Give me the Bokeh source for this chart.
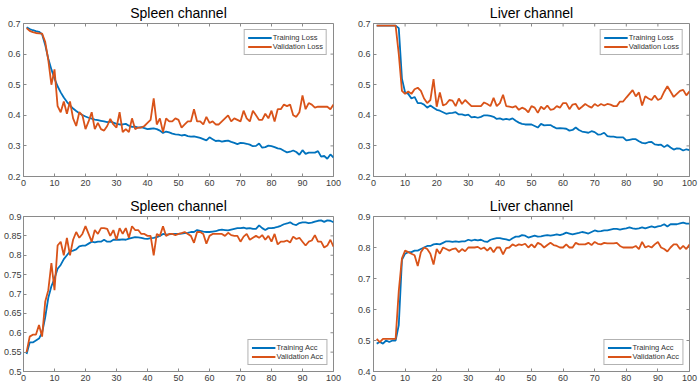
import math
from bokeh.plotting import figure
from bokeh.layouts import gridplot
from bokeh.models import Range1d, FixedTicker, CustomJSTickFormatter
from bokeh.embed import file_html
from bokeh.resources import INLINE

epochs = list(range(1, 101))
x_ticks = [0, 10, 20, 30, 40, 50, 60, 70, 80, 90, 100]

loss_ticks = [0.2, 0.3, 0.4, 0.5, 0.6, 0.7]
spleen_acc_ticks = [0.5, 0.55, 0.6, 0.65, 0.7, 0.75, 0.8, 0.85, 0.9]
liver_acc_ticks = [0.4, 0.5, 0.6, 0.7, 0.8, 0.9]

titles = ["Spleen channel", "Liver channel", "Spleen channel", "Liver channel"]
loss_labels = ["Training Loss", "Validation Loss"]
acc_labels = ["Training Acc", "Validation Acc"]

spleen_train_loss = [
    0.688, 0.682, 0.678, 0.675, 0.673, 0.665, 0.630, 0.585, 0.550, 0.520,
    0.495, 0.475, 0.458, 0.444, 0.432, 0.422, 0.414, 0.407, 0.401, 0.396,
    0.392, 0.389, 0.386, 0.384, 0.382, 0.380, 0.378, 0.379, 0.376, 0.372,
    0.370, 0.370, 0.372, 0.366, 0.362, 0.363, 0.360, 0.361, 0.358, 0.355,
    0.356, 0.357, 0.355, 0.350, 0.342, 0.347, 0.344, 0.340, 0.338, 0.337,
    0.334, 0.336, 0.332, 0.330, 0.331, 0.329, 0.326, 0.322, 0.318, 0.328,
    0.322, 0.316, 0.317, 0.314, 0.316, 0.317, 0.313, 0.310, 0.306, 0.310,
    0.309, 0.307, 0.304, 0.299, 0.300, 0.308, 0.294, 0.296, 0.301, 0.299,
    0.296, 0.292, 0.290, 0.284, 0.279, 0.281, 0.285, 0.280, 0.271, 0.286,
    0.274, 0.278, 0.278, 0.278, 0.283, 0.265, 0.267, 0.258, 0.272, 0.262]

spleen_val_loss = [
    0.685, 0.676, 0.672, 0.669, 0.668, 0.667, 0.640, 0.580, 0.500, 0.550,
    0.430, 0.410, 0.445, 0.405, 0.445, 0.390, 0.365, 0.410, 0.400, 0.355,
    0.380, 0.410, 0.355, 0.375, 0.355, 0.350, 0.365, 0.388, 0.370, 0.360,
    0.410, 0.345, 0.355, 0.345, 0.390, 0.355, 0.360, 0.360, 0.365, 0.375,
    0.385, 0.455, 0.370, 0.390, 0.345, 0.390, 0.380, 0.380, 0.390, 0.385,
    0.360, 0.370, 0.380, 0.380, 0.420, 0.380, 0.380, 0.370, 0.395, 0.375,
    0.380, 0.370, 0.370, 0.380, 0.390, 0.400, 0.380, 0.390, 0.385, 0.380,
    0.415, 0.390, 0.380, 0.415, 0.400, 0.385, 0.385, 0.405, 0.390, 0.415,
    0.380, 0.420, 0.420, 0.435, 0.430, 0.435, 0.400, 0.395, 0.410, 0.465,
    0.420, 0.440, 0.435, 0.425, 0.428, 0.428, 0.428, 0.428, 0.420, 0.435]

liver_train_loss = [
    0.693, 0.693, 0.693, 0.693, 0.693, 0.693, 0.693, 0.685, 0.520, 0.475,
    0.470, 0.455, 0.460, 0.440, 0.440, 0.435, 0.425, 0.432, 0.425, 0.418,
    0.415, 0.410, 0.405, 0.407, 0.408, 0.410, 0.403, 0.403, 0.400, 0.402,
    0.393, 0.395, 0.392, 0.395, 0.400, 0.400, 0.398, 0.395, 0.388, 0.390,
    0.386, 0.388, 0.386, 0.390, 0.382, 0.376, 0.372, 0.370, 0.370, 0.370,
    0.365, 0.360, 0.372, 0.367, 0.368, 0.368, 0.362, 0.357, 0.358, 0.357,
    0.356, 0.350, 0.352, 0.360, 0.352, 0.347, 0.345, 0.343, 0.348, 0.345,
    0.337, 0.338, 0.343, 0.332, 0.330, 0.330, 0.328, 0.328, 0.328, 0.318,
    0.320, 0.322, 0.322, 0.315, 0.310, 0.308, 0.312, 0.313, 0.305, 0.303,
    0.304, 0.296, 0.303, 0.295, 0.288, 0.292, 0.291, 0.285, 0.289, 0.286]

liver_val_loss = [
    0.693, 0.693, 0.693, 0.693, 0.693, 0.693, 0.693, 0.600, 0.480, 0.470,
    0.478, 0.470, 0.485, 0.490, 0.480, 0.455, 0.440, 0.450, 0.518, 0.428,
    0.475, 0.432, 0.437, 0.450, 0.448, 0.430, 0.455, 0.437, 0.450, 0.440,
    0.430, 0.430, 0.430, 0.430, 0.442, 0.437, 0.430, 0.457, 0.430, 0.440,
    0.467, 0.430, 0.428, 0.426, 0.430, 0.418, 0.425, 0.420, 0.410, 0.430,
    0.425, 0.408, 0.428, 0.420, 0.432, 0.418, 0.420, 0.430, 0.425, 0.440,
    0.440, 0.420, 0.435, 0.437, 0.420, 0.428, 0.437, 0.430, 0.425, 0.437,
    0.430, 0.437, 0.432, 0.437, 0.435, 0.430, 0.430, 0.445, 0.445, 0.458,
    0.470, 0.482, 0.462, 0.475, 0.432, 0.462, 0.455, 0.450, 0.465, 0.450,
    0.455, 0.477, 0.495, 0.478, 0.460, 0.470, 0.480, 0.483, 0.465, 0.478]

spleen_train_acc = [
    0.545, 0.575, 0.575, 0.580, 0.585, 0.600, 0.640, 0.690, 0.720, 0.740,
    0.765, 0.775, 0.790, 0.800, 0.810, 0.812, 0.815, 0.823, 0.825, 0.825,
    0.830, 0.835, 0.833, 0.835, 0.835, 0.840, 0.835, 0.835, 0.840, 0.840,
    0.840, 0.841, 0.840, 0.843, 0.845, 0.847, 0.846, 0.845, 0.843, 0.842,
    0.844, 0.845, 0.847, 0.850, 0.855, 0.853, 0.854, 0.855, 0.855, 0.855,
    0.856, 0.857, 0.858, 0.860, 0.860, 0.865, 0.863, 0.861, 0.860, 0.860,
    0.861, 0.862, 0.865, 0.866, 0.865, 0.864, 0.866, 0.868, 0.870, 0.870,
    0.871, 0.869, 0.870, 0.868, 0.868, 0.877, 0.870, 0.865, 0.870, 0.870,
    0.871, 0.873, 0.876, 0.880, 0.882, 0.885, 0.880, 0.878, 0.883, 0.885,
    0.885, 0.883, 0.884, 0.887, 0.889, 0.890, 0.886, 0.890, 0.889, 0.885]

spleen_val_acc = [
    0.550, 0.590, 0.595, 0.595, 0.620, 0.590, 0.680, 0.710, 0.780, 0.710,
    0.825, 0.835, 0.800, 0.845, 0.800, 0.840, 0.860, 0.845, 0.855, 0.875,
    0.855, 0.835, 0.865, 0.855, 0.870, 0.870, 0.868, 0.850, 0.865, 0.840,
    0.870, 0.855, 0.870, 0.845, 0.875, 0.865, 0.865, 0.855, 0.855, 0.850,
    0.850, 0.800, 0.855, 0.850, 0.875, 0.850, 0.855, 0.855, 0.852, 0.855,
    0.857, 0.860, 0.855, 0.850, 0.832, 0.860, 0.860, 0.855, 0.830, 0.850,
    0.855, 0.855, 0.855, 0.855, 0.850, 0.858, 0.852, 0.850, 0.850, 0.835,
    0.848, 0.855, 0.840, 0.845, 0.850, 0.845, 0.852, 0.840, 0.850, 0.835,
    0.855, 0.828, 0.835, 0.835, 0.838, 0.833, 0.848, 0.842, 0.845, 0.835,
    0.825, 0.835, 0.838, 0.852, 0.835, 0.835, 0.820, 0.825, 0.840, 0.822]

liver_train_acc = [
    0.490, 0.495, 0.490, 0.500, 0.495, 0.500, 0.500, 0.550, 0.760, 0.780,
    0.785, 0.785, 0.790, 0.790, 0.795, 0.800, 0.805, 0.805, 0.810, 0.812,
    0.810, 0.815, 0.820, 0.820, 0.818, 0.820, 0.818, 0.820, 0.820, 0.825,
    0.822, 0.825, 0.823, 0.825, 0.820, 0.818, 0.825, 0.828, 0.830, 0.830,
    0.828, 0.826, 0.823, 0.830, 0.835, 0.835, 0.840, 0.838, 0.832, 0.835,
    0.838, 0.835, 0.836, 0.838, 0.840, 0.838, 0.840, 0.842, 0.840, 0.843,
    0.848, 0.845, 0.842, 0.845, 0.847, 0.850, 0.848, 0.845, 0.850, 0.855,
    0.852, 0.853, 0.855, 0.855, 0.858, 0.860, 0.860, 0.858, 0.860, 0.862,
    0.865, 0.862, 0.860, 0.862, 0.865, 0.862, 0.865, 0.868, 0.865, 0.868,
    0.870, 0.875, 0.868, 0.875, 0.875, 0.875, 0.878, 0.880, 0.877, 0.877]

liver_val_acc = [
    0.505, 0.495, 0.505, 0.505, 0.505, 0.505, 0.505, 0.660, 0.765, 0.790,
    0.785, 0.780, 0.775, 0.740, 0.785, 0.800, 0.795, 0.780, 0.745, 0.795,
    0.780, 0.800, 0.795, 0.790, 0.795, 0.797, 0.785, 0.795, 0.788, 0.800,
    0.800, 0.800, 0.802, 0.795, 0.800, 0.790, 0.800, 0.785, 0.800, 0.800,
    0.778, 0.798, 0.800, 0.810, 0.805, 0.810, 0.808, 0.812, 0.800, 0.810,
    0.800, 0.815, 0.810, 0.800, 0.808, 0.815, 0.808, 0.805, 0.800, 0.800,
    0.810, 0.800, 0.800, 0.815, 0.810, 0.810, 0.810, 0.815, 0.808, 0.818,
    0.812, 0.810, 0.815, 0.813, 0.813, 0.813, 0.815, 0.805, 0.800, 0.800,
    0.800, 0.800, 0.805, 0.795, 0.818, 0.800, 0.805, 0.800, 0.810, 0.818,
    0.800, 0.795, 0.787, 0.800, 0.810, 0.810, 0.795, 0.805, 0.795, 0.810]

BLUE = "#0072BD"
ORANGE = "#D95319"
FRAME = "#8a8a8a"
TICKTXT = "#3c3c3c"
FONT = "Liberation Sans"

fmt_code = "return String(Math.round(tick * 100) / 100);"


def style_axis(ax, ticks, standoff=3):
    ax.ticker = FixedTicker(ticks=ticks)
    ax.formatter = CustomJSTickFormatter(code=fmt_code)
    ax.axis_line_color = FRAME
    ax.major_tick_line_color = FRAME
    ax.major_tick_in = 3
    ax.major_tick_out = 0
    ax.minor_tick_in = 0
    ax.minor_tick_out = 0
    ax.major_label_text_font = FONT
    ax.major_label_text_color = TICKTXT
    ax.major_label_text_font_size = "9px"
    ax.major_label_standoff = standoff


def panel(title, y0, y1, yticks, train, val, labels, loc, w, h, mbl, mbr, mbt, mbb,
          ystandoff=3):
    p = figure(width=w, height=h, x_range=Range1d(0, 100), y_range=Range1d(y0, y1),
               output_backend="svg", toolbar_location=None, title=title,
               min_border_left=mbl, min_border_right=mbr,
               min_border_top=mbt, min_border_bottom=mbb)
    p.title.text_font = FONT
    p.title.text_font_size = "14px"
    p.title.text_font_style = "normal"
    p.title.text_color = "#000000"
    p.title.align = "center"
    p.title.standoff = 5
    p.xgrid.visible = False
    p.ygrid.visible = False
    p.outline_line_color = FRAME
    p.outline_line_width = 1
    p.background_fill_color = "white"
    p.border_fill_color = "white"

    # mirrored inside ticks on top and right edges (MATLAB box style)
    p.ray(x=x_ticks, y=[y1] * len(x_ticks), length=3, length_units="screen",
          angle=-math.pi / 2, line_color=FRAME, line_width=1)
    p.ray(x=[100] * len(yticks), y=yticks, length=3, length_units="screen",
          angle=math.pi, line_color=FRAME, line_width=1)

    p.line(epochs, train, color=BLUE, line_width=1.8, legend_label=labels[0])
    p.line(epochs, val, color=ORANGE, line_width=1.8, legend_label=labels[1])

    style_axis(p.xaxis[0], x_ticks, 3)
    style_axis(p.yaxis[0], yticks, ystandoff)

    lg = p.legend[0]
    lg.location = loc
    lg.label_text_font = FONT
    lg.label_text_font_size = "7.5px"
    lg.label_text_color = "#333333"
    lg.label_height = 9
    lg.glyph_height = 9
    lg.glyph_width = 24
    lg.label_standoff = 1
    lg.padding = 3
    lg.spacing = 0
    lg.margin = 6
    lg.border_line_color = "#666666"
    lg.border_line_width = 1
    lg.background_fill_alpha = 1
    return p


p1 = panel(titles[0], 0.2, 0.7, loss_ticks, spleen_train_loss, spleen_val_loss,
           loss_labels, "top_right", 350, 193, 18, 17, 22, 17)
p2 = panel(titles[1], 0.2, 0.7, loss_ticks, liver_train_loss, liver_val_loss,
           loss_labels, "top_right", 350, 193, 23, 11, 22, 17)
p3 = panel(titles[2], 0.5, 0.9, spleen_acc_ticks, spleen_train_acc, spleen_val_acc,
           acc_labels, "bottom_right", 350, 192, 18, 17, 23, 14, ystandoff=2)
p4 = panel(titles[3], 0.4, 0.9, liver_acc_ticks, liver_train_acc, liver_val_acc,
           acc_labels, "bottom_right", 350, 192, 23, 11, 23, 14)

grid = gridplot([[p1, p2], [p3, p4]], toolbar_location=None)

open("out.html", "w").write(file_html(grid, INLINE))
